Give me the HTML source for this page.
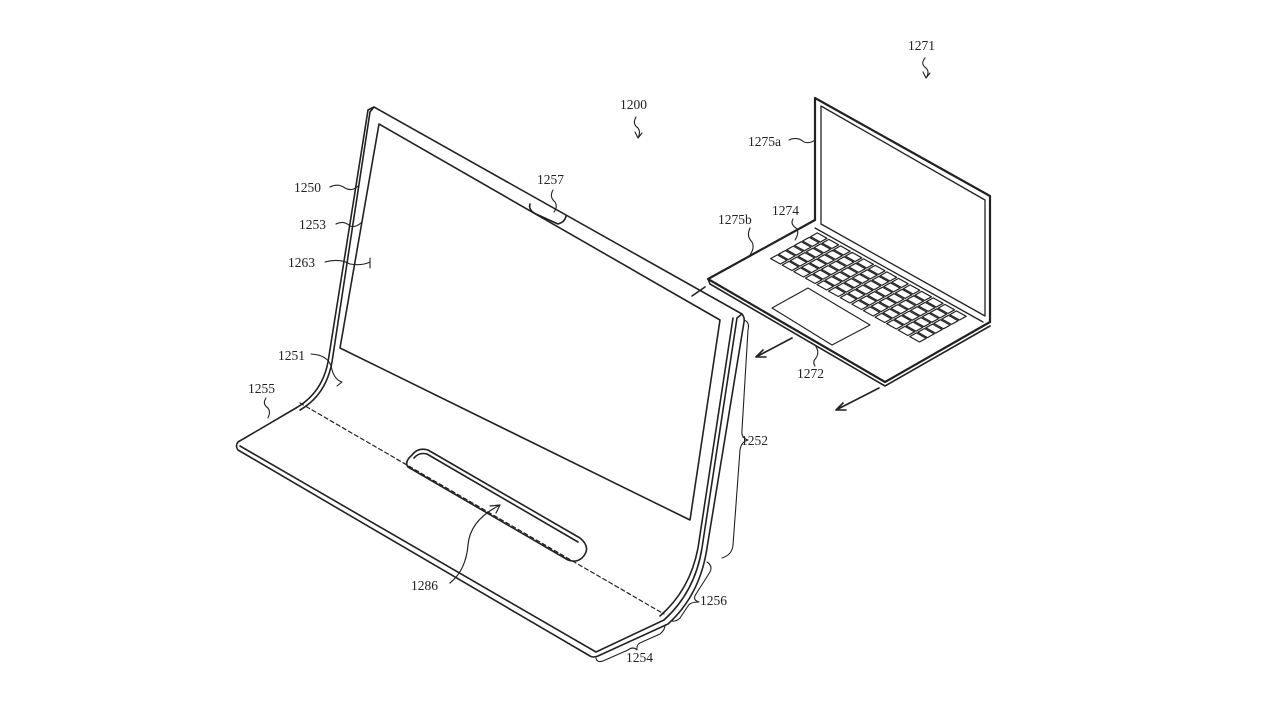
<!DOCTYPE html>
<html><head><meta charset="utf-8"><style>
html,body{margin:0;padding:0;background:#fff;}
svg{display:block}
text{font-family:"Liberation Serif",serif;font-size:13.5px;fill:#222;}
</style></head><body>
<svg id="s" width="1280" height="720" viewBox="0 0 1280 720" xmlns="http://www.w3.org/2000/svg">
<g fill="none" stroke="#222" stroke-width="1.6" stroke-linejoin="round" stroke-linecap="round">
<path d="M368,110 L374,107 L742,314 Q745,318 744,322 L707,548 Q700,595 668,624 L598,656 Q593,658 590,656 L238,450 Q235,446 238,442 L296,408 Q322,393 328,362 Z"/>
<path d="M374,107 L370,112 L332,362 Q326,395 300,410" />
<path d="M742,314 L737,318 L702,548 Q695,592 664,620 L596,652 L240,446"/>
<path d="M733,318 L698,548 Q690,590 660,616"/>
<path d="M379,124 L720,320 L690,520 L340,348 Z"/>
<path d="M530,204 Q528,210 536,214 L558,224 Q565,222 566,216"/>
<path d="M300,403 L664,614" stroke-dasharray="4,3" stroke-width="1.2"/>
<path d="M412,455 Q418,447 428,450 L580,538 Q592,548 582,558 Q576,563 568,560 L408,467 Q404,462 412,455 Z"/>
<path d="M414,458 Q419,452 427,454 L578,542"/>
<path d="M692,296 L705,287"/>
<path d="M815,98 L990,196 L990,322 M815,98 L815,220" stroke-width="2.2"/>
<path d="M821,106 L985,200 L985,316 L821,224 Z" stroke-width="1.3"/>
<path d="M815,220 L708,279 L885,382 L990,322" stroke-width="2.2"/>
<path d="M708,279 L710,284 L885,386 L990,326" stroke-width="1.6"/>
<path d="M815,228 L983,322" stroke-width="1.3"/>
<path d="M772,308 L808,288 L870,325 L832,345 Z" stroke-width="1.1"/>
<g id="keys" stroke-width="1.2"></g>
<path d="M792,338 L756,357 M756,357 L766,357 M756,357 L763,350"/>
<path d="M879,388 L836,410 M836,410 L846,410 M836,410 L843,403"/>
<path d="M500,505 Q470,520 468,545 Q466,570 450,583 M500,505 L490,506 M500,505 L496,513" stroke-width="1.2"/>
<g stroke-width="1.1">
<path d="M925,58 Q920,64 926,68 Q930,72 926,78 M926,78 L923,72 M926,78 L930,73"/>
<path d="M636,117 Q632,124 638,128 Q641,132 638,138 M638,138 L635,132 M638,138 L642,133"/>
<path d="M553,190 Q549,197 555,202 Q558,207 554,212"/>
<path d="M330,187 Q338,183 345,188 Q352,192 358,186"/>
<path d="M336,224 Q344,220 350,226 Q356,228 362,222"/>
<path d="M325,262 Q340,258 350,264 Q362,266 370,262 M370,258 L370,268"/>
<path d="M311,354 Q330,355 332,370 Q335,380 342,382 L337,386"/>
<path d="M266,398 Q262,404 268,408 Q271,412 268,418"/>
<path d="M789,140 Q797,136 804,142 Q810,144 815,140"/>
<path d="M750,228 Q746,236 752,242 Q755,248 750,255"/>
<path d="M793,219 Q790,224 796,228 Q800,232 795,240"/>
<path d="M815,345 Q820,352 816,358 Q812,362 815,366"/>
<path d="M744,320 Q750,322 748,330 L742,430 Q741,438 748,440 Q741,442 740,450 L733,545 Q732,555 722,558"/>
<path d="M707,562 Q713,566 710,572 L696,594 Q692,600 699,602 Q690,602 688,606 L680,618 Q676,622 671,621"/>
<path d="M596,658 Q597,663 603,661 L628,650 Q633,646 637,650 Q636,644 642,642 L660,634 Q665,630 665,625"/>
</g>
</g>
<text x="908" y="50">1271</text>
<text x="620" y="109">1200</text>
<text x="537" y="184">1257</text>
<text x="294" y="192">1250</text>
<text x="299" y="229">1253</text>
<text x="288" y="267">1263</text>
<text x="278" y="360">1251</text>
<text x="248" y="393">1255</text>
<text x="741" y="445">1252</text>
<text x="700" y="605">1256</text>
<text x="626" y="662">1254</text>
<text x="411" y="590">1286</text>
<text x="748" y="146">1275a</text>
<text x="718" y="224">1275b</text>
<text x="772" y="215">1274</text>
<text x="797" y="378">1272</text>
</svg>
<script>
var g=document.getElementById('keys');var ns='http://www.w3.org/2000/svg';
var ox=817,oy=232,ux=11.6,uy=6.5,vx=-8,vy=4.4;
for(var r=0;r<6;r++){for(var c=0;c<13;c++){
var a=0.08,b=0.92;
function P(s,t){return (ox+(c+s)*ux+(r+t)*vx).toFixed(1)+','+(oy+(c+s)*uy+(r+t)*vy).toFixed(1);}
var p=document.createElementNS(ns,'polygon');
p.setAttribute('points',P(a,a)+' '+P(b,a)+' '+P(b,b)+' '+P(a,b));
g.appendChild(p);}}
</script>
</body></html>
